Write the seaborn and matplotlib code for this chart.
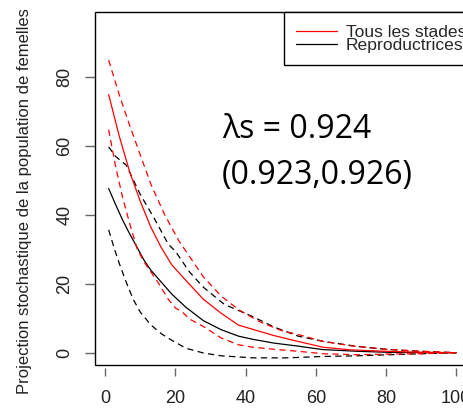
import matplotlib
matplotlib.use("Agg")
import matplotlib.pyplot as plt
import numpy as np
import pandas as pd
import seaborn as sns
from matplotlib.lines import Line2D
from matplotlib.patches import Rectangle

# ---------------- data ----------------
# "Tous les stades" (red): mean and 95% bounds
tous_moy_t = [1, 4, 7, 10, 13, 16, 19, 23, 28, 33, 38, 43, 48, 54, 62, 70, 80, 90, 100]
tous_moy_n = [75, 63, 52.5, 44, 36.5, 30.5, 25.5, 21, 15.5, 11.5, 8, 6.5, 5, 3.5, 1.6, 0.8, 0.4, 0.1, 0]
tous_sup_t = [1, 4, 7, 10, 13, 17, 21, 25, 28, 33, 38, 44, 50, 56, 62, 70, 80, 90, 100]
tous_sup_n = [85, 75, 66, 57.5, 49, 40, 32.5, 26.5, 22, 16.5, 12.5, 9, 6.5, 5, 3.3, 2, 1, 0.4, 0]
tous_inf_t = [1, 3, 5, 7, 9, 11, 13, 15, 18, 20, 22, 24, 28, 33, 38, 42, 48, 55, 62, 72, 81, 90, 100]
tous_inf_n = [64.8, 54, 45, 37.5, 30.5, 26.5, 23.5, 20.5, 15.5, 13, 11.8, 9.8, 7.6, 4.3, 2.3, 1.6, 1.0, 0.4, -0.3, -0.6, -0.4, -0.3, 0]

# "Reproductrices" (black): mean and 95% bounds
repro_moy_t = [1, 3, 5, 7, 9, 11, 13, 16, 19, 23, 28, 33, 38, 42, 48, 55, 62, 72, 81, 90, 100]
repro_moy_n = [47.7, 43, 38.5, 34.5, 30.8, 27, 24, 20.5, 17, 13.2, 9.3, 6.7, 4.8, 3.9, 2.8, 1.9, 0.9, 0.4, 0.1, 0.05, 0]
repro_sup_t = [1, 3, 6, 10, 14, 18, 20, 24, 28, 34, 42, 48, 55, 62, 72, 81, 90, 100]
repro_sup_n = [59.8, 57, 54.5, 46, 39, 31.5, 29.5, 23.5, 19, 14, 10.5, 7.5, 4.8, 3.3, 1.8, 0.9, 0.4, 0]
repro_inf_t = [1, 2.6, 4, 6, 8, 10, 13, 16, 19, 23, 28, 33, 42, 52, 62, 72, 81, 90, 100]
repro_inf_n = [35.7, 30.3, 26, 20.5, 15.5, 11.8, 8.1, 5.5, 3.6, 1.3, -0.1, -0.9, -1.5, -1.5, -1.1, -0.9, -0.6, -0.3, 0]

legend_labels = ["Tous les stades", "Reproductrices"]
x_ticks = [0, 20, 40, 60, 80, 100]
y_ticks = [0, 20, 40, 60, 80]
y_label = "Projection stochastique de la population de femelles"
lambda_line1 = "λs = 0.924"
lambda_line2 = "(0.923,0.926)"

# ---------------- build long table ----------------
def block(group, kind, t, n):
    return pd.DataFrame({"groupe": group, "courbe": kind, "t": t, "n": n})

df = pd.concat([
    block("Reproductrices", "moyenne", repro_moy_t, repro_moy_n),
    block("Reproductrices", "sup", repro_sup_t, repro_sup_n),
    block("Reproductrices", "inf", repro_inf_t, repro_inf_n),
    block("Tous les stades", "moyenne", tous_moy_t, tous_moy_n),
    block("Tous les stades", "sup", tous_sup_t, tous_sup_n),
    block("Tous les stades", "inf", tous_inf_t, tous_inf_n),
], ignore_index=True)

# ---------------- style ----------------
sns.set_style("ticks")
plt.rcParams["font.family"] = ["Liberation Sans", "DejaVu Sans"]

fig = plt.figure(figsize=(4.64, 4.08), dpi=100)
ax = fig.add_axes([0.2054, 0.1047, 0.8065, 0.8652])

dash_map = {"moyenne": "", "sup": (5, 3.5), "inf": (5, 3.5)}
colors = {"Reproductrices": "black", "Tous les stades": "#ff0000"}
for grp in ["Reproductrices", "Tous les stades"]:
    sns.lineplot(data=df[df["groupe"] == grp], x="t", y="n", style="courbe",
                 dashes=dash_map, color=colors[grp], linewidth=0.9,
                 estimator=None, legend=False, ax=ax)

ax.set_xlim(-2.8, 103.8)
ax.set_ylim(-3.66, 98.9)
ax.set_xticks(x_ticks)
ax.set_yticks(y_ticks)
ax.set_xlabel("")
ax.set_ylabel(y_label, fontsize=12, color="#222222", va="center")
ax.yaxis.set_label_coords(-0.19, 0.465)

for s in ax.spines.values():
    s.set_color("none")
ax.spines["bottom"].set_position(("outward", 2.2))
ax.add_patch(Rectangle((0, 0), 1, 1, transform=ax.transAxes, fill=False,
                       ec="black", lw=1.0, clip_on=False, zorder=5))

ax.tick_params(axis="x", direction="out", length=5.8, width=1.0, color="#666666",
               labelsize=13, labelcolor="#222222", pad=9.5)
ax.tick_params(axis="y", direction="out", length=7.2, width=1.0, color="#666666",
               labelsize=13, labelcolor="#222222", pad=8.5, labelrotation=90)
for lab in ax.get_yticklabels():
    lab.set_va("center")

# lambda annotation
ax.text(0.3386, 0.669, lambda_line1, transform=ax.transAxes, fontsize=23,
        family=["Open Sans", "DejaVu Sans"], ha="left", va="center", color="black")
ax.text(0.3386, 0.537, lambda_line2, transform=ax.transAxes, fontsize=23,
        family=["Open Sans", "DejaVu Sans"], ha="left", va="center", color="black")

# legend
handles = [Line2D([], [], color="#ff0000", lw=0.9), Line2D([], [], color="black", lw=0.9)]
leg = ax.legend(handles, legend_labels, loc="upper left", bbox_to_anchor=(0.5043, 1.0),
                borderaxespad=0, frameon=True, fancybox=False, edgecolor="black",
                framealpha=1, fontsize=12.6, borderpad=0.7, handlelength=2.35,
                handletextpad=0.48, labelspacing=-0.12)
leg.get_frame().set_linewidth(1.0)
leg.set_zorder(6)

fig.savefig("out.png", dpi=100)
